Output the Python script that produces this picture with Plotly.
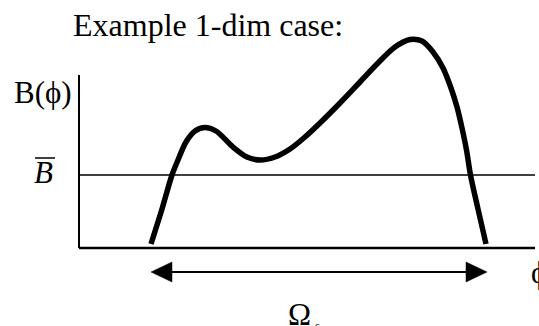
import plotly.graph_objects as go

# ---- data (phi position, B value) ----
phi = [151, 162, 172, 178, 186, 195, 205, 216, 233, 247, 260, 275, 290, 305, 320, 340,
       360, 378, 395, 410, 422, 433, 443, 451, 457, 462, 466.5, 470.5, 478, 486]
B = [4, 39, 73, 88, 106, 117, 120.5, 117, 101, 91, 88, 91, 99, 111, 125, 145,
     166, 185, 201, 208.5, 207, 196, 180, 160, 141, 120, 98, 73, 39, 4]
B_bar = 73
phi_axis = [79, 535]
B_axis_top = 173
omega_span = [151, 487]
arrow_level = -24

title_text = "Example 1-dim case:"
ylabel_text = "B(ϕ)"
xlabel_text = "ϕ"

FONT = "Liberation Serif, Times New Roman, serif"

fig = go.Figure()
fig.add_trace(go.Scatter(x=phi, y=B, mode="lines",
                         line=dict(color="black", width=5.5, shape="spline", smoothing=0.9),
                         hoverinfo="skip", showlegend=False))

shapes = []
# axes
shapes.append(dict(type="line", x0=phi_axis[0], x1=phi_axis[0], y0=0, y1=B_axis_top,
                   line=dict(color="black", width=2)))
shapes.append(dict(type="line", x0=phi_axis[0], x1=phi_axis[1], y0=0, y1=0,
                   line=dict(color="black", width=2.5)))
shapes.append(dict(type="line", x0=phi_axis[0], x1=phi_axis[1], y0=B_bar, y1=B_bar,
                   line=dict(color="black", width=1.6)))
# double arrow
hl, hh = 21, 10
a0, a1 = omega_span
shapes.append(dict(type="line", x0=a0 + hl, x1=a1 - hl, y0=arrow_level, y1=arrow_level,
                   line=dict(color="black", width=2.2)))
shapes.append(dict(type="path",
                   path=f"M {a0} {arrow_level} L {a0+hl} {arrow_level+hh} L {a0+hl} {arrow_level-hh} Z",
                   fillcolor="black", line=dict(color="black", width=0.5)))
shapes.append(dict(type="path",
                   path=f"M {a1} {arrow_level} L {a1-hl} {arrow_level+hh} L {a1-hl} {arrow_level-hh} Z",
                   fillcolor="black", line=dict(color="black", width=0.5)))
# overbar on B
shapes.append(dict(type="line", x0=35, x1=55, y0=90, y1=90, line=dict(color="black", width=1.5)))

ann = []
def txt(t, x, y, size=31, xanchor="left", yanchor="middle"):
    ann.append(dict(text=t, x=x, y=y, xref="x", yref="y", showarrow=False,
                    xanchor=xanchor, yanchor=yanchor,
                    font=dict(family=FONT, size=size, color="black")))

txt(title_text, 71, 223.5, size=32)
txt(ylabel_text, 12, 155.5)
txt("<i>B</i>", 32, 75.5)
txt(xlabel_text, 529, -24.5)
txt("Ω", 286, -66.5)
txt("s", 313, -77, size=13)

fig.update_layout(
    width=539, height=326,
    margin=dict(l=0, r=0, t=0, b=0),
    paper_bgcolor="white", plot_bgcolor="white",
    xaxis=dict(range=[0, 539], visible=False, fixedrange=True),
    yaxis=dict(range=[-78, 248], visible=False, fixedrange=True),
    shapes=shapes, annotations=ann,
)
fig.write_html("out.html", config={"displayModeBar": False},
               post_script="document.body.style.margin='0';document.body.style.overflow='hidden';")
